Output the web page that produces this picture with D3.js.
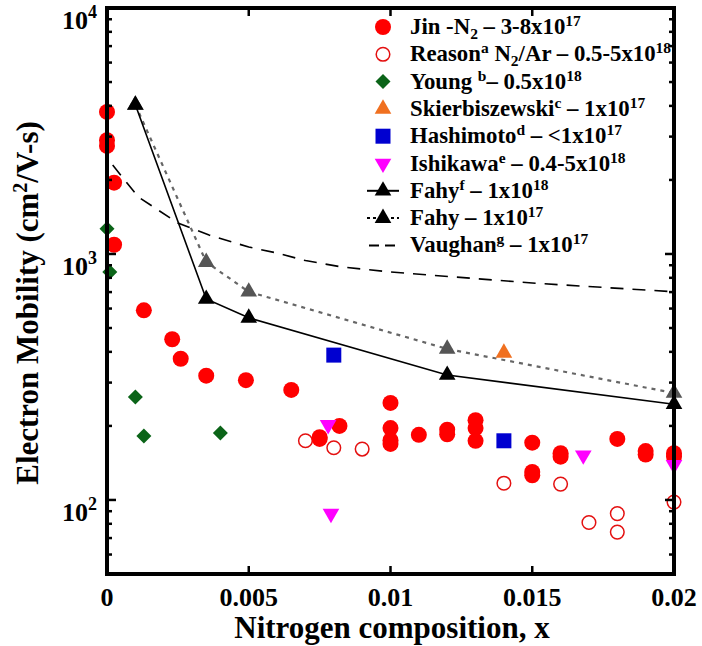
<!DOCTYPE html>
<html>
<head>
    <style>
        body { margin: 0; background: #fff; }
        svg text { font-family: "Liberation Serif", "DejaVu Serif", serif; font-weight: bold; fill: #000; }
        .tick-label { font-size: 26px; }
        .legend text { font-size: 22.8px; }
        .axis-title { font-size: 31px; }
    </style>
    <script src="https://d3js.org/d3.v7.min.js"></script>
</head>
<body>
    <svg width="702" height="646"></svg>
    <script>
        // values
        var jinX = [0, 0, 0, 0.00025, 0.00025, 0.0013, 0.0023, 0.0026, 0.0035, 0.0049, 0.0065, 0.0075, 0.0075, 0.0082,
            0.01, 0.01, 0.01, 0.01, 0.011, 0.012, 0.012, 0.013, 0.013, 0.013, 0.015, 0.015, 0.015, 0.016, 0.016,
            0.018, 0.019, 0.019, 0.02, 0.02];
        var jinY = [3780, 2900, 2750, 1950, 1090, 590, 450, 375, 320, 307, 280, 180, 177, 200,
            248, 196, 175, 169, 184, 193, 185, 211, 196, 174, 171, 130, 126, 155, 150,
            177, 158, 153, 155, 150];
        var reasonX = [0.007, 0.008, 0.009, 0.014, 0.016, 0.017, 0.018, 0.018, 0.02];
        var reasonY = [174, 163, 161, 117, 116, 81, 88, 74, 98];
        var youngX = [0, 0.0001, 0.001, 0.0013, 0.004];
        var youngY = [1265, 845, 262, 182, 187];
        var skierX = [0.014];
        var skierY = [396];
        var hashX = [0.008, 0.014];
        var hashY = [388, 174];
        var ishiX = [0.0078, 0.0079, 0.0168, 0.02];
        var ishiY = [202, 88, 152, 139];
        var fahyX = [0.001, 0.0035, 0.005, 0.012, 0.02];
        var fahy18Y = [4040, 656, 550, 322, 245];
        var fahy17Y = [4040, 927, 702, 411, 272];
        var vaughanX = [0.0002, 0.0011, 0.0025, 0.0036, 0.005, 0.006, 0.007, 0.0083, 0.01, 0.015, 0.02];
        var vaughanY = [2300, 1706, 1336, 1194, 1067, 1009, 940, 885, 845, 762, 702];

        var xTicks = [0, 0.005, 0.01, 0.015, 0.02];
        var xTickLabels = ["0", "0.005", "0.01", "0.015", "0.02"];
        var yTicks = [100, 1000, 10000];
        var yTickExp = ["2", "3", "4"];

        var svg = d3.select("svg");
        var pL = 107, pR = 674, pT = 8, pB = 574;

        var x = d3.scaleLinear().domain([0, 0.02]).range([pL, pR]);
        var y = d3.scaleLog().domain([50, 10000]).range([pB, pT]);

        function zip(xs, ys) { return xs.map(function(v, i){ return [v, ys[i]]; }); }

        // shapes
        var tri = d3.symbol().type(d3.symbolTriangle).size(120);
        function diamond(r) { return "M0," + (-r) + "L" + r + ",0L0," + r + "L" + (-r) + ",0Z"; }
        function square(h) { return "M" + (-h) + "," + (-h) + "h" + (2*h) + "v" + (2*h) + "h" + (-2*h) + "Z"; }

        var plot = svg.append("g");

        // Vaughan dashed
        var line = d3.line().x(function(d){ return x(d[0]); }).y(function(d){ return y(d[1]); });
        plot.append("path").datum(zip(vaughanX, vaughanY)).attr("d", line)
            .attr("fill", "none").attr("stroke", "#000").attr("stroke-width", 1.6).attr("stroke-dasharray", "13,9");
        // Fahy 1e17 dotted
        plot.append("path").datum(zip(fahyX, fahy17Y)).attr("d", line)
            .attr("fill", "none").attr("stroke", "#666").attr("stroke-width", 2.2).attr("stroke-dasharray", "4,5");
        plot.selectAll(".f17").data(zip(fahyX, fahy17Y)).enter().append("path")
            .attr("transform", function(d){ return "translate(" + x(d[0]) + "," + y(d[1]) + ")"; })
            .attr("d", tri).attr("fill", "#555");
        // Fahy 1e18 solid
        plot.append("path").datum(zip(fahyX, fahy18Y)).attr("d", line)
            .attr("fill", "none").attr("stroke", "#000").attr("stroke-width", 1.6);
        plot.selectAll(".f18").data(zip(fahyX, fahy18Y)).enter().append("path")
            .attr("transform", function(d){ return "translate(" + x(d[0]) + "," + y(d[1]) + ")"; })
            .attr("d", tri).attr("fill", "#000");

        plot.selectAll(".young").data(zip(youngX, youngY)).enter().append("path")
            .attr("transform", function(d){ return "translate(" + x(d[0]) + "," + y(d[1]) + ")"; })
            .attr("d", diamond(7.5)).attr("fill", "#0b6418");
        plot.selectAll(".reason").data(zip(reasonX, reasonY)).enter().append("circle")
            .attr("cx", function(d){ return x(d[0]); }).attr("cy", function(d){ return y(d[1]); })
            .attr("r", 6.8).attr("fill", "none").attr("stroke", "#e41010").attr("stroke-width", 1.5);
        plot.selectAll(".skier").data(zip(skierX, skierY)).enter().append("path")
            .attr("transform", function(d){ return "translate(" + x(d[0]) + "," + y(d[1]) + ")"; })
            .attr("d", tri).attr("fill", "#f07020");
        plot.selectAll(".hash").data(zip(hashX, hashY)).enter().append("path")
            .attr("transform", function(d){ return "translate(" + x(d[0]) + "," + y(d[1]) + ")"; })
            .attr("d", square(7.5)).attr("fill", "#0000d0");
        plot.selectAll(".jin").data(zip(jinX, jinY)).enter().append("circle")
            .attr("cx", function(d){ return x(d[0]); }).attr("cy", function(d){ return y(d[1]); })
            .attr("r", 8).attr("fill", "#ff0000");
        plot.selectAll(".ishi").data(zip(ishiX, ishiY)).enter().append("path")
            .attr("transform", function(d){ return "translate(" + x(d[0]) + "," + y(d[1]) + ") rotate(180)"; })
            .attr("d", tri).attr("fill", "#ff00ff");

        // ticks
        var ticks = svg.append("g").attr("stroke", "#000").attr("stroke-width", 2.5);
        var minor = [];
        [10, 100, 1000].forEach(function(b){ for (var k = 2; k <= 9; k++) if (b * k >= 50) minor.push(b * k); });
        minor.forEach(function(v){
            ticks.append("line").attr("x1", pL).attr("x2", pL + 5).attr("y1", y(v)).attr("y2", y(v));
            ticks.append("line").attr("x1", pR).attr("x2", pR - 5).attr("y1", y(v)).attr("y2", y(v));
        });
        yTicks.forEach(function(v){
            ticks.append("line").attr("x1", pL).attr("x2", pL + 9).attr("y1", y(v)).attr("y2", y(v));
            ticks.append("line").attr("x1", pR).attr("x2", pR - 9).attr("y1", y(v)).attr("y2", y(v));
        });
        xTicks.forEach(function(v){
            ticks.append("line").attr("x1", x(v)).attr("x2", x(v)).attr("y1", pB).attr("y2", pB - 8);
            ticks.append("line").attr("x1", x(v)).attr("x2", x(v)).attr("y1", pT).attr("y2", pT + 8);
        });

        // frame
        svg.append("rect").attr("x", pL).attr("y", pT).attr("width", pR - pL).attr("height", pB - pT)
            .attr("fill", "none").attr("stroke", "#000").attr("stroke-width", 4);

        // tick labels
        svg.selectAll(".xl").data(xTicks).enter().append("text").attr("class", "tick-label")
            .attr("x", function(d){ return x(d); }).attr("y", 606).attr("text-anchor", "middle")
            .text(function(d, i){ return xTickLabels[i]; });
        yTicks.forEach(function(v, i){
            var t = svg.append("text").attr("class", "tick-label").attr("x", 97).attr("y", y(v) + 21)
                .attr("text-anchor", "end");
            t.append("tspan").text("10");
            t.append("tspan").attr("dy", -11).attr("font-size", 18).text(yTickExp[i]);
        });

        // axis titles
        svg.append("text").attr("class", "axis-title").attr("x", 392).attr("y", 638)
            .attr("text-anchor", "middle").text("Nitrogen composition, x");
        var yt = svg.append("text").attr("class", "axis-title")
            .attr("transform", "translate(38,303) rotate(-90)").attr("text-anchor", "middle");
        yt.append("tspan").text("Electron Mobility (cm");
        yt.append("tspan").attr("dy", -11).attr("font-size", 20).text("2");
        yt.append("tspan").attr("dy", 11).text("/V-s)");

        // legend
        var legendRows = [
            { mark: "jin", parts: [["Jin -N", 0], ["2", 1], [" \u2013 3-8x10", 0], ["17", -1]] },
            { mark: "reason", parts: [["Reason", 0], ["a", -1], [" N", 0], ["2", 1], ["/Ar \u2013 0.5-5x10", 0], ["18", -1]] },
            { mark: "young", parts: [["Young ", 0], ["b", -1], ["\u2013 0.5x10", 0], ["18", -1]] },
            { mark: "skier", parts: [["Skierbiszewski", 0], ["c", -1], [" \u2013 1x10", 0], ["17", -1]] },
            { mark: "hash", parts: [["Hashimoto", 0], ["d", -1], [" \u2013 <1x10", 0], ["17", -1]] },
            { mark: "ishi", parts: [["Ishikawa", 0], ["e", -1], [" \u2013 0.4-5x10", 0], ["18", -1]] },
            { mark: "f18", parts: [["Fahy", 0], ["f", -1], [" \u2013 1x10", 0], ["18", -1]] },
            { mark: "f17", parts: [["Fahy \u2013 1x10", 0], ["17", -1]] },
            { mark: "vaughan", parts: [["Vaughan", 0], ["g", -1], [" \u2013 1x10", 0], ["17", -1]] }
        ];
        svg.append("clipPath").attr("id", "clip").append("rect")
            .attr("x", pL).attr("y", pT).attr("width", pR - pL).attr("height", pB - pT);
        var lg = svg.append("g").attr("class", "legend").attr("clip-path", "url(#clip)");
        var mx = 383, tx = 410;
        legendRows.forEach(function(r, i){
            var cy = 27 + i * 27.3;
            var g = lg.append("g").attr("transform", "translate(" + mx + "," + cy + ")");
            if (r.mark === "jin") g.append("circle").attr("r", 8).attr("fill", "#ff0000");
            if (r.mark === "reason") g.append("circle").attr("r", 6.8).attr("fill", "none").attr("stroke", "#e41010").attr("stroke-width", 1.5);
            if (r.mark === "young") g.append("path").attr("d", diamond(7.5)).attr("fill", "#0b6418");
            if (r.mark === "skier") g.append("path").attr("d", tri).attr("fill", "#f07020");
            if (r.mark === "hash") g.append("path").attr("d", square(7.5)).attr("fill", "#0000d0");
            if (r.mark === "ishi") g.append("path").attr("d", tri).attr("transform", "rotate(180)").attr("fill", "#ff00ff");
            if (r.mark === "f18" || r.mark === "f17" || r.mark === "vaughan") {
                var ln = g.append("line").attr("x1", -16).attr("x2", 16).attr("stroke", "#000").attr("stroke-width", 2);
                if (r.mark === "f17") ln.attr("stroke-dasharray", "3,3");
                if (r.mark === "vaughan") ln.attr("x1", -14).attr("x2", 14).attr("stroke-dasharray", "10,6");
                if (r.mark !== "vaughan") g.append("path").attr("d", tri).attr("fill", "#000");
            }
            var t = lg.append("text").attr("x", tx).attr("y", cy + 7);
            var shift = 0;
            r.parts.forEach(function(p){
                var sp = t.append("tspan").text(p[0]);
                var target = p[1] === -1 ? -8 : (p[1] === 1 ? 5 : 0);
                if (target !== shift) sp.attr("dy", target - shift);
                if (p[1] !== 0) sp.attr("font-size", 15.5);
                shift = target;
            });
        });
    </script>
</body>
</html>
